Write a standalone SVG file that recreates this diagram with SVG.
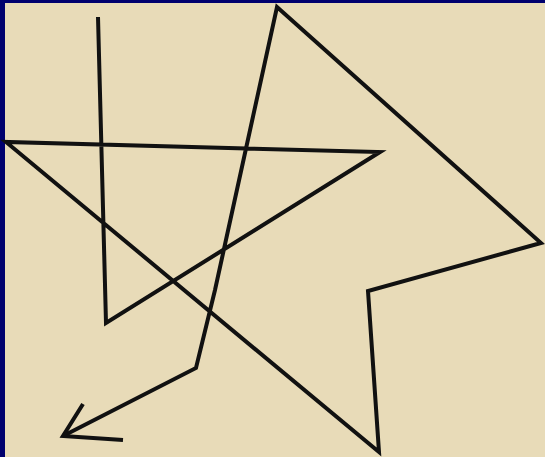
<svg xmlns="http://www.w3.org/2000/svg" width="545" height="457" viewBox="0 0 545 457">
<style>
.ink{fill:none;stroke:#111;stroke-width:4;stroke-linejoin:miter;stroke-linecap:butt}
</style>
<rect x="0" y="0" width="545" height="457" fill="#E8DBB8"/>
<rect x="0" y="0" width="545" height="3" fill="#00006E"/>
<rect x="0" y="0" width="5" height="457" fill="#00006E"/>
<g id="path">
<polyline class="ink" points="98,17 106,323 380,152 6,142 379,452 368,291 541,243 277,7 215,290 196,368 63,436"/>
</g>
<g id="arrowhead">
<polyline class="ink" points="83,404 63,436 123,440"/>
</g>
</svg>
